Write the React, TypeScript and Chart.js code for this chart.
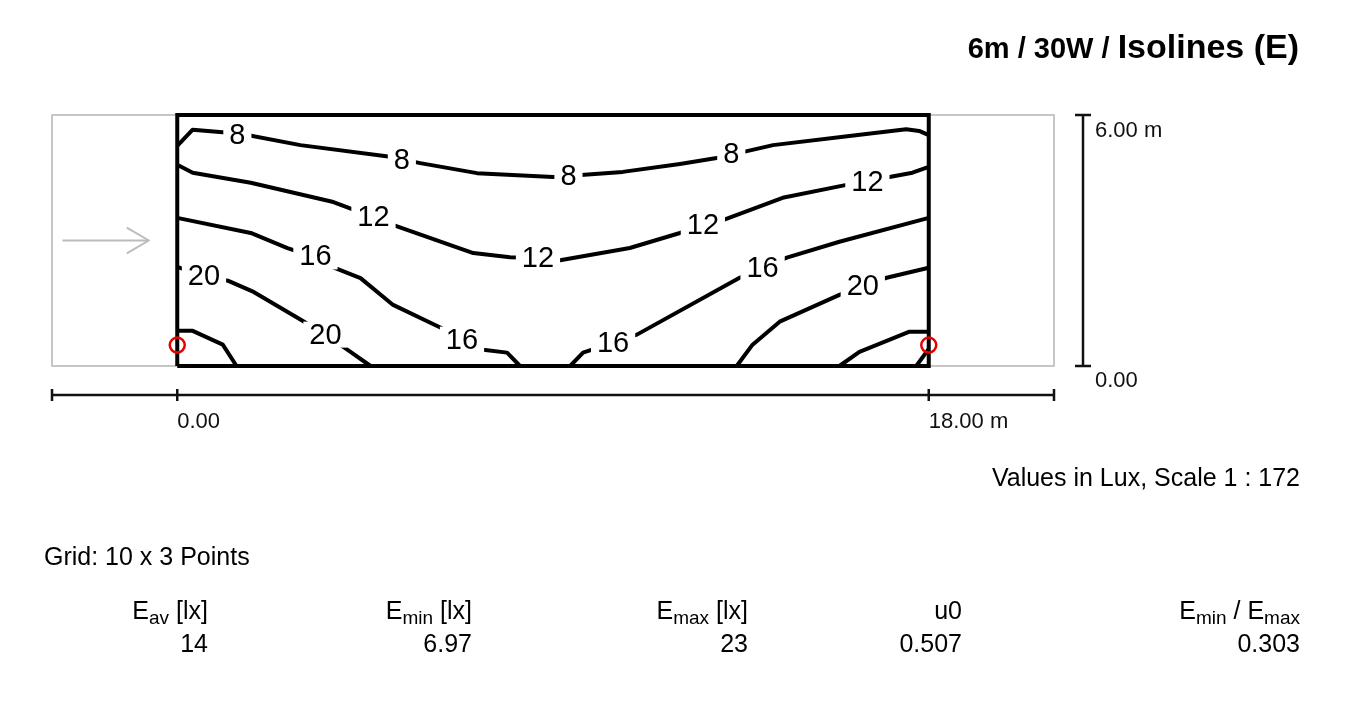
import React, { useEffect, useRef } from "react";
import { Chart, registerables } from "chart.js";

Chart.register(...registerables);

type P = [number, number];

// ---- data (metres) ----
const roadExtent: P[] = [[-3, 0], [21, 0], [21, 6], [-3, 6], [-3, 0]];
const areaOutline: P[] = [[0, 0], [18, 0], [18, 6], [0, 6], [0, 0]];
const arrowShaft: P[] = [[-2.75, 3], [-0.68, 3]];
const arrowHead: P[] = [[-1.21, 3.31], [-0.68, 3], [-1.21, 2.69]];

const iso8: P[] = [[0, 5.26], [0.37, 5.65], [1.52, 5.55], [2.95, 5.28], [5.1, 5.0], [5.82, 4.85], [7.18, 4.61], [9.0, 4.52], [10.67, 4.64], [12.04, 4.83], [12.92, 4.97], [14.27, 5.28], [16.1, 5.5], [17.46, 5.66], [17.77, 5.62], [18, 5.52]];
const iso12: P[] = [[0, 4.81], [0.37, 4.62], [1.76, 4.38], [3.74, 3.92], [4.7, 3.56], [5.18, 3.37], [7.09, 2.7], [7.97, 2.6], [8.64, 2.58], [9.17, 2.53], [10.84, 2.82], [12.04, 3.18], [12.59, 3.37], [13.07, 3.49], [14.5, 4.02], [16.03, 4.33], [16.53, 4.4], [17.06, 4.52], [17.61, 4.62], [18, 4.76]];
const iso16Left: P[] = [[0, 3.54], [1.76, 3.18], [2.64, 2.82], [3.31, 2.6], [3.74, 2.36], [4.39, 2.1], [5.17, 1.46], [6.3, 0.92], [6.82, 0.63], [7.33, 0.39], [7.9, 0.32], [8.21, 0]];
const iso16Right: P[] = [[9.41, 0], [9.72, 0.32], [10.44, 0.56], [11.01, 0.75], [13.47, 2.11], [14.02, 2.35], [14.6, 2.59], [15.86, 2.97], [18, 3.54]];
const iso20Left: P[] = [[0, 2.37], [0.64, 2.14], [1.21, 2.04], [1.83, 1.77], [2.95, 1.11], [3.55, 0.75], [4.15, 0.34], [4.63, 0]];
const iso20Right: P[] = [[13.4, 0], [13.78, 0.51], [14.43, 1.06], [15.86, 1.7], [16.41, 1.92], [16.99, 2.11], [18, 2.35]];
const iso24Left: P[] = [[0, 0.84], [0.37, 0.84], [1.09, 0.51], [1.42, 0]];
const iso24Right: P[] = [[15.86, 0], [16.34, 0.34], [17.54, 0.82], [18, 0.82]];
const iso24Corner: P[] = [[17.7, 0], [18, 0.41]];
const observers: P[] = [[0, 0.5], [18, 0.5]];

const isoLabelText = ["8", "8", "8", "8", "12", "12", "12", "12", "16", "16", "16", "16", "20", "20", "20"];
const isoLabelPos: P[] = [[1.44, 5.52], [5.38, 4.93], [9.37, 4.55], [13.27, 5.06], [4.7, 3.57], [8.64, 2.59], [12.59, 3.37], [16.53, 4.41], [3.31, 2.62], [6.82, 0.63], [10.44, 0.55], [14.02, 2.35], [0.64, 2.14], [3.55, 0.75], [16.42, 1.92]];

const dimTicksX = [-3, 0, 18, 21];
const dimLabelsX: [number, string][] = [[0, "0.00"], [18, "18.00 m"]];
const dimTicksY = [0, 6];
const dimLabelsY: [number, string][] = [[6, "6.00 m"], [0, "0.00"]];

const titleSmall = "6m / 30W / ";
const titleLarge = "Isolines (E)";
const scaleNote = "Values in Lux, Scale 1 : 172";
const gridNote = "Grid: 10 x 3 Points";
type Part = { t: string; sub?: boolean };
const statHeaders: Part[][] = [
  [{ t: "E" }, { t: "av", sub: true }, { t: " [lx]" }],
  [{ t: "E" }, { t: "min", sub: true }, { t: " [lx]" }],
  [{ t: "E" }, { t: "max", sub: true }, { t: " [lx]" }],
  [{ t: "u0" }],
  [{ t: "E" }, { t: "min", sub: true }, { t: " / E" }, { t: "max", sub: true }],
];
const statValues = ["14", "6.97", "23", "0.507", "0.303"];
const statRight = [208, 472, 748, 962, 1300];

const FF = "'Liberation Sans', Arial, Helvetica, sans-serif";

const toXY = (a: P[]) => a.map(([x, y]) => ({ x, y }));

const decor = {
  id: "decor",
  afterDatasetsDraw(chart: any) {
    const { ctx, scales } = chart;
    const xs = scales.x, ys = scales.y;
    ctx.save();
    ctx.font = `29px ${FF}`;
    ctx.textAlign = "center";
    ctx.textBaseline = "middle";
    isoLabelText.forEach((t, i) => {
      const px = xs.getPixelForValue(isoLabelPos[i][0]);
      const py = ys.getPixelForValue(isoLabelPos[i][1]);
      const w = ctx.measureText(t).width;
      ctx.fillStyle = "#ffffff";
      ctx.fillRect(px - w / 2 - 6, py - 13, w + 12, 26);
      ctx.fillStyle = "#000000";
      ctx.fillText(t, px, py + 1);
    });
    ctx.restore();
  },
  afterDraw(chart: any) {
    const { ctx, scales } = chart;
    const xs = scales.x, ys = scales.y;
    ctx.save();
    ctx.strokeStyle = "#111";
    ctx.fillStyle = "#111";
    ctx.lineWidth = 2.5;
    // horizontal dimension
    const dy = ys.getPixelForValue(0) + 29;
    ctx.beginPath();
    ctx.moveTo(xs.getPixelForValue(dimTicksX[0]), dy);
    ctx.lineTo(xs.getPixelForValue(dimTicksX[dimTicksX.length - 1]), dy);
    dimTicksX.forEach((v) => {
      const px = xs.getPixelForValue(v);
      ctx.moveTo(px, dy - 6);
      ctx.lineTo(px, dy + 6);
    });
    ctx.stroke();
    ctx.font = `22px ${FF}`;
    ctx.textAlign = "left";
    ctx.textBaseline = "alphabetic";
    dimLabelsX.forEach(([v, t]) => ctx.fillText(t, xs.getPixelForValue(v), dy + 33));
    // vertical dimension
    const dx = xs.getPixelForValue(21) + 29;
    ctx.beginPath();
    ctx.moveTo(dx, ys.getPixelForValue(0));
    ctx.lineTo(dx, ys.getPixelForValue(6));
    dimTicksY.forEach((v) => {
      const py = ys.getPixelForValue(v);
      ctx.moveTo(dx - 8, py);
      ctx.lineTo(dx + 8, py);
    });
    ctx.stroke();
    dimLabelsY.forEach(([v, t]) => ctx.fillText(t, dx + 12, ys.getPixelForValue(v) + (v > 0 ? 22 : 21)));

    // title
    ctx.fillStyle = "#000";
    ctx.font = `bold 29px ${FF}`;
    const w1 = ctx.measureText(titleSmall).width;
    ctx.font = `bold 34px ${FF}`;
    const w2 = ctx.measureText(titleLarge).width;
    const tx = 1299 - w1 - w2;
    ctx.font = `bold 29px ${FF}`;
    ctx.fillText(titleSmall, tx, 58);
    ctx.font = `bold 34px ${FF}`;
    ctx.fillText(titleLarge, tx + w1, 58);

    // notes
    ctx.font = `25px ${FF}`;
    ctx.textAlign = "right";
    ctx.fillText(scaleNote, 1300, 486);
    ctx.textAlign = "left";
    ctx.fillText(gridNote, 44, 565);

    // stats
    const mainF = `25px ${FF}`;
    const subF = `19px ${FF}`;
    statHeaders.forEach((parts, i) => {
      let total = 0;
      parts.forEach((p) => {
        ctx.font = p.sub ? subF : mainF;
        total += ctx.measureText(p.t).width;
      });
      let x = statRight[i] - total;
      parts.forEach((p) => {
        ctx.font = p.sub ? subF : mainF;
        ctx.fillText(p.t, x, p.sub ? 624 : 619);
        x += ctx.measureText(p.t).width;
      });
      ctx.font = mainF;
      ctx.textAlign = "right";
      ctx.fillText(statValues[i], statRight[i], 652);
      ctx.textAlign = "left";
    });
    ctx.restore();
  },
};

export default function App() {
  const ref = useRef<HTMLCanvasElement>(null);
  useEffect(() => {
    if (!ref.current) return;
    const line = (data: P[], color: string, width: number, order: number) => ({
      type: "line" as const,
      data: toXY(data),
      borderColor: color,
      borderWidth: width,
      pointRadius: 0,
      showLine: true,
      tension: 0,
      fill: false,
      clip: false as any,
      borderJoinStyle: "round" as const,
      borderCapStyle: "butt" as const,
      order,
    });
    const isoColor = "#000000";
    const chart = new Chart(ref.current, {
      type: "scatter",
      data: {
        datasets: [
          line(roadExtent, "#c6c6c6", 2, 10),
          line(arrowShaft, "#bcbcbc", 2, 9),
          line(arrowHead, "#bcbcbc", 2, 9),
          line(iso8, isoColor, 4, 5),
          line(iso12, isoColor, 4, 5),
          line(iso16Left, isoColor, 4, 5),
          line(iso16Right, isoColor, 4, 5),
          line(iso20Left, isoColor, 4, 5),
          line(iso20Right, isoColor, 4, 5),
          line(iso24Left, isoColor, 4, 5),
          line(iso24Right, isoColor, 4, 5),
          line(iso24Corner, isoColor, 4, 5),
          { ...line(areaOutline, "#000000", 4, 2), borderJoinStyle: "miter" as const },
          {
            type: "scatter" as const,
            data: toXY(observers),
            pointRadius: 7.5,
            pointStyle: "circle",
            borderColor: "#e60000",
            backgroundColor: "rgba(0,0,0,0)",
            borderWidth: 2.5,
            showLine: false,
            clip: false as any,
            order: 1,
          },
        ] as any,
      },
      options: {
        animation: false,
        responsive: false,
        events: [],
        layout: { padding: { left: 52, right: 318, top: 115, bottom: 339 } },
        plugins: { legend: { display: false }, tooltip: { enabled: false }, title: { display: false } },
        scales: {
          x: { type: "linear", min: -3, max: 21, display: false },
          y: { type: "linear", min: 0, max: 6, display: false },
        },
      },
      plugins: [decor],
    });
    return () => chart.destroy();
  }, []);
  return (
    <div style={{ position: "absolute", left: 0, top: 0, width: 1372, height: 705, background: "#fff" }}>
      <canvas ref={ref} width={1372} height={705} style={{ display: "block" }} />
    </div>
  );
}
